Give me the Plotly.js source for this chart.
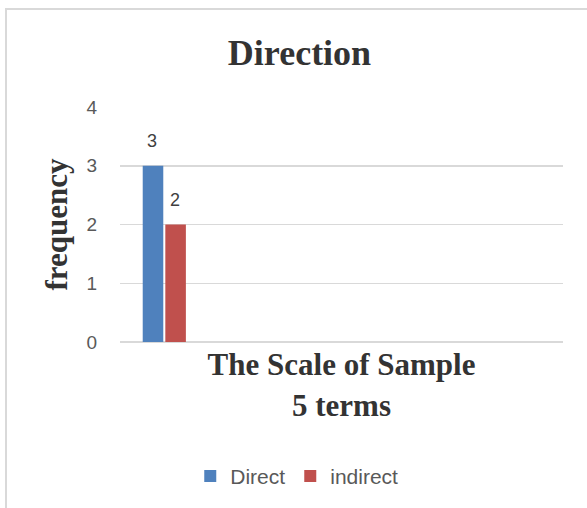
<!DOCTYPE html>
<html>
<head>
<meta charset="utf-8">
<script src="https://cdn.plot.ly/plotly-3.0.1.min.js"></script>
<style>
  html, body { margin: 0; padding: 0; background: #ffffff; }
  #frame { position: absolute; left: 5px; top: 8px; width: 600px; height: 520px; border: 2px solid #d9d9d9; box-sizing: border-box; }
  #chart { position: absolute; left: 0; top: 0; width: 587px; height: 508px; }
</style>
</head>
<body>
<div id="frame"></div>
<div id="chart"></div>
<script>
// Data
const categories = ["c1", "c2", "c3", "c4", "c5"];
const seriesNames = ["Direct", "indirect"];
const directValues = [3, null, null, null, null];
const indirectValues = [2, null, null, null, null];
const seriesColors = ["#4F81BD", "#C0504D"];
const yTicks = [0, 1, 2, 3, 4];

const traces = [
  { type: "bar", name: seriesNames[0], x: categories, y: directValues, marker: { color: seriesColors[0] }, hoverinfo: "skip" },
  { type: "bar", name: seriesNames[1], x: categories, y: indirectValues, marker: { color: seriesColors[1] }, hoverinfo: "skip" }
];

// data labels above the bars
const annotations = [];
[directValues, indirectValues].forEach((vals, si) => {
  vals.forEach((v, i) => {
    if (v === null) return;
    annotations.push({
      x: categories[i], y: v, xref: "x", yref: "y",
      text: String(v), showarrow: false,
      xshift: si === 0 ? -12 : 11, yshift: 25,
      font: { family: "Liberation Sans, Arial, sans-serif", size: 18, color: "#404040" }
    });
  });
});

const layout = {
  width: 587, height: 508,
  paper_bgcolor: "rgba(0,0,0,0)", plot_bgcolor: "rgba(0,0,0,0)",
  margin: { l: 120, r: 24, t: 107, b: 165 },
  barmode: "group", bargap: 0.49, bargroupgap: 0.09,
  title: {
    text: "<b>Direction</b>",
    font: { family: "Liberation Serif, Times New Roman, serif", size: 36, color: "#333333" },
    x: 299.5 / 587, xanchor: "center", xref: "container",
    y: 1 - 52 / 508, yanchor: "middle"
  },
  xaxis: {
    type: "category", categoryarray: categories,
    showticklabels: false, showgrid: false, zeroline: false, ticks: "",
    showline: false,
    range: [-0.5, 4.5],
    title: {
      text: "<b>The Scale of Sample<br>5 terms</b>",
      font: { family: "Liberation Serif, Times New Roman, serif", size: 31, color: "#333333" },
      standoff: 11
    }
  },
  yaxis: {
    range: [0, 4], tickvals: yTicks, ticktext: yTicks.map(String),
    showgrid: true, gridcolor: "#d9d9d9", gridwidth: 1.5,
    zeroline: true, zerolinecolor: "#d9d9d9", zerolinewidth: 1.5,
    showline: false, ticks: "", ticklabelstandoff: 22,
    tickfont: { family: "Liberation Sans, Arial, sans-serif", size: 19, color: "#595959" },
    title: {
      text: "<b>frequency</b>",
      font: { family: "Liberation Serif, Times New Roman, serif", size: 31, color: "#333333" },
      standoff: 9
    }
  },
  showlegend: true,
  legend: {
    orientation: "h", x: 0.399, xanchor: "center", y: -0.565, yanchor: "middle",
    font: { family: "Liberation Sans, Arial, sans-serif", size: 21, color: "#595959" },
    itemwidth: 30
  },
  annotations: annotations
};

Plotly.newPlot("chart", traces, layout, { displayModeBar: false, staticPlot: true });
</script>
</body>
</html>
